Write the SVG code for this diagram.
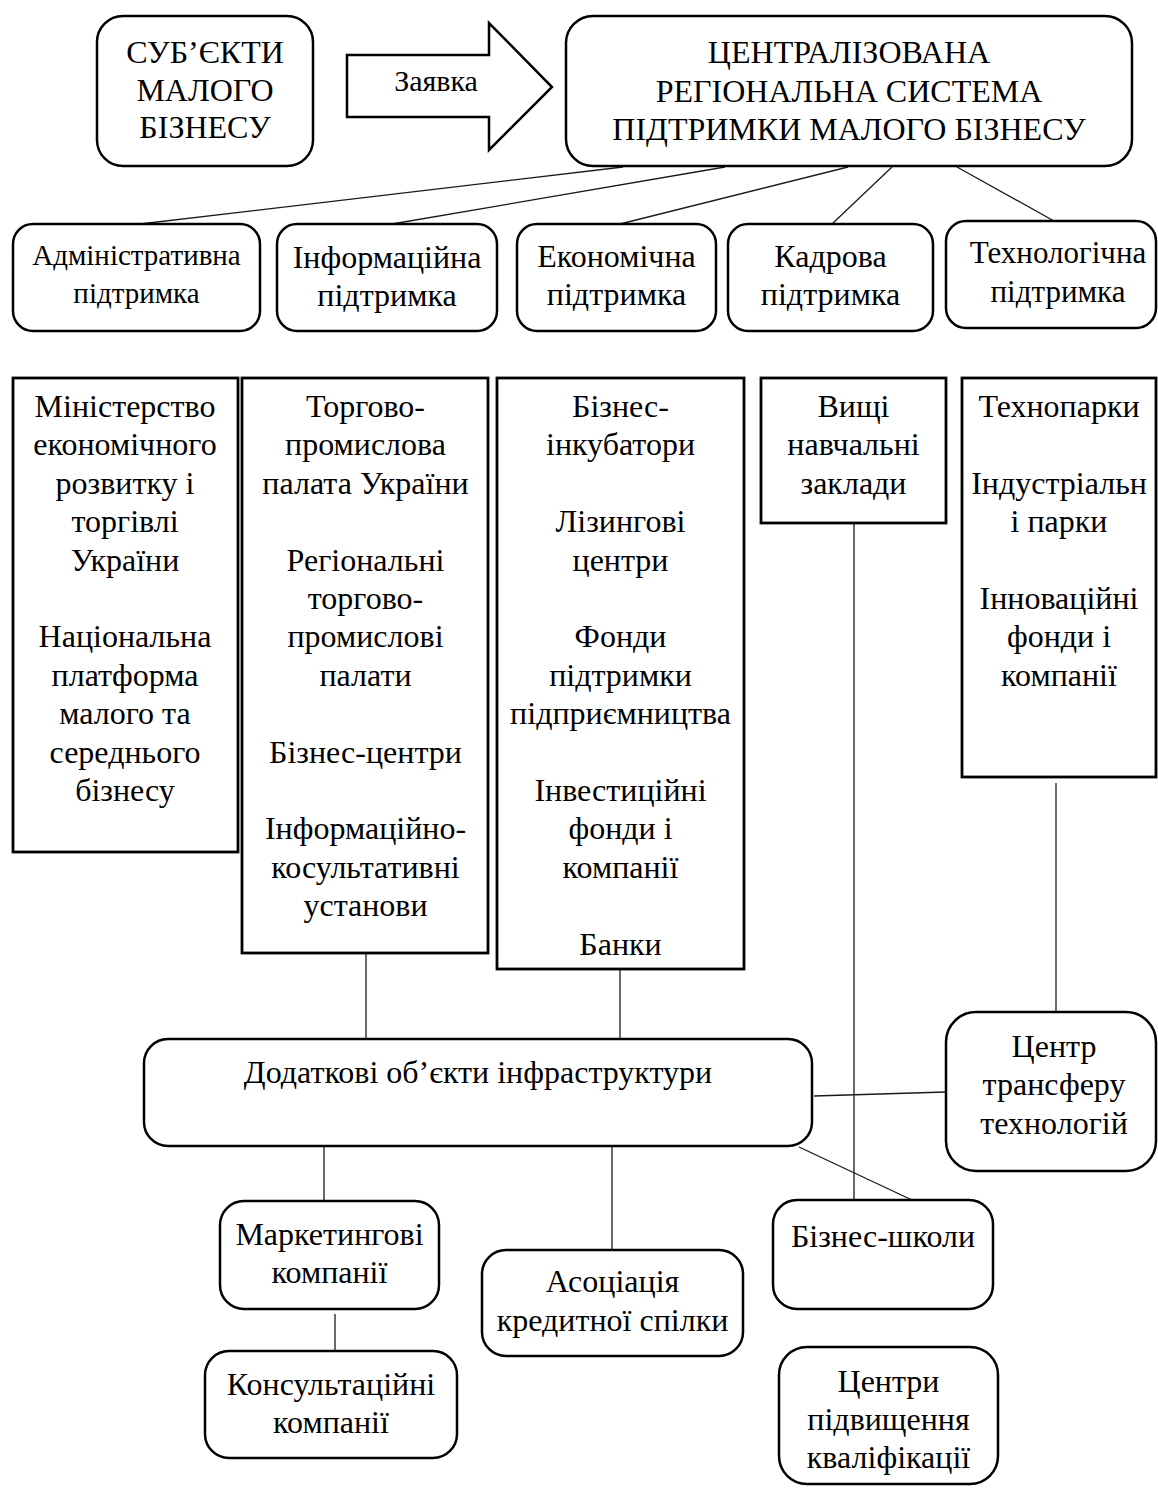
<svg xmlns="http://www.w3.org/2000/svg" width="1158" height="1488" viewBox="0 0 1158 1488">
<style>
  .rb { fill: #fff; stroke: #000; stroke-width: 2.5; }
  .sq { fill: #fff; stroke: #000; stroke-width: 2.8; }
  .ln { fill: none; stroke: #1a1a1a; stroke-width: 1.3; }
  text { font-family: "Liberation Serif", "Times New Roman", serif; font-size: 32px; fill: #000; text-anchor: middle; }
  .s29 { font-size: 29px; }
  .s30 { font-size: 30px; }
  .s31 { font-size: 31px; }
</style>
<rect x="0" y="0" width="1158" height="1488" fill="#fff"/>

<g id="connectors">
  <line class="ln" x1="623" y1="167" x2="140" y2="224"/>
  <line class="ln" x1="725" y1="167" x2="392" y2="224"/>
  <line class="ln" x1="848" y1="167" x2="620" y2="224"/>
  <line class="ln" x1="892" y1="167" x2="832" y2="224"/>
  <line class="ln" x1="957" y1="167" x2="1054" y2="221"/>
  <line class="ln" x1="366" y1="953" x2="366" y2="1039"/>
  <line class="ln" x1="620" y1="969" x2="620" y2="1039"/>
  <line class="ln" x1="854" y1="523" x2="854" y2="1200" stroke="#444"/>
  <line class="ln" x1="1056" y1="783" x2="1056" y2="1012"/>
  <line class="ln" x1="814" y1="1096" x2="946" y2="1092"/>
  <line class="ln" x1="799" y1="1147" x2="912" y2="1200"/>
  <line class="ln" x1="324" y1="1147" x2="324" y2="1201"/>
  <line class="ln" x1="612" y1="1147" x2="612" y2="1250"/>
  <line class="ln" x1="335" y1="1314" x2="335" y2="1356"/>
</g>

<g id="subjects">
  <rect class="rb" x="97" y="16" width="216" height="150" rx="26"/>
  <text x="205" y="63">СУБ’ЄКТИ</text>
  <text x="205" y="100.5">МАЛОГО</text>
  <text x="205" y="138">БІЗНЕСУ</text>
</g>

<g id="request-arrow">
  <polygon class="rb" points="347,55 489,55 489,23 552,87 489,150 489,117 347,117"/>
  <text class="s30" x="436" y="91">Заявка</text>
</g>

<g id="central-system">
  <rect class="rb" x="566" y="16" width="566" height="150" rx="27"/>
  <text x="849" y="63">ЦЕНТРАЛІЗОВАНА</text>
  <text x="849" y="102">РЕГІОНАЛЬНА СИСТЕМА</text>
  <text x="849" y="140">ПІДТРИМКИ МАЛОГО БІЗНЕСУ</text>
</g>

<g id="admin-support">
  <rect class="rb" x="13" y="224" width="247" height="107" rx="20"/>
  <text class="s29" x="136.5" y="265">Адміністративна</text>
  <text class="s29" x="136.5" y="303">підтримка</text>
</g>
<g id="info-support">
  <rect class="rb" x="277" y="224" width="220" height="107" rx="20"/>
  <text x="387" y="268">Інформаційна</text>
  <text x="387" y="306">підтримка</text>
</g>
<g id="econ-support">
  <rect class="rb" x="517" y="224" width="199" height="107" rx="20"/>
  <text x="616.5" y="267">Економічна</text>
  <text x="616.5" y="305">підтримка</text>
</g>
<g id="staff-support">
  <rect class="rb" x="728" y="224" width="205" height="107" rx="20"/>
  <text x="830.5" y="267">Кадрова</text>
  <text x="830.5" y="305">підтримка</text>
</g>
<g id="tech-support">
  <rect class="rb" x="946" y="221" width="210" height="107" rx="20"/>
  <text class="s31" x="1058" y="263">Технологічна</text>
  <text class="s31" x="1058" y="302">підтримка</text>
</g>

<g id="ministry">
  <rect class="sq" x="13" y="378" width="225" height="474"/>
  <text x="125" y="417">Міністерство</text>
  <text x="125" y="455.4">економічного</text>
  <text x="125" y="493.8">розвитку і</text>
  <text x="125" y="532.2">торгівлі</text>
  <text x="125" y="570.6">України</text>
  <text x="125" y="647.4">Національна</text>
  <text x="125" y="685.8">платформа</text>
  <text x="125" y="724.2">малого та</text>
  <text x="125" y="762.6">середнього</text>
  <text x="125" y="801">бізнесу</text>
</g>

<g id="chambers">
  <rect class="sq" x="242" y="378" width="246" height="575"/>
  <text x="365.5" y="417">Торгово-</text>
  <text x="365.5" y="455.4">промислова</text>
  <text x="365.5" y="493.8">палата України</text>
  <text x="365.5" y="570.6">Регіональні</text>
  <text x="365.5" y="609">торгово-</text>
  <text x="365.5" y="647.4">промислові</text>
  <text x="365.5" y="685.8">палати</text>
  <text x="365.5" y="762.6">Бізнес-центри</text>
  <text x="365.5" y="839.4">Інформаційно-</text>
  <text x="365.5" y="877.8">косультативні</text>
  <text x="365.5" y="916.2">установи</text>
</g>

<g id="finance">
  <rect class="sq" x="497" y="378" width="247" height="591"/>
  <text x="620.5" y="417">Бізнес-</text>
  <text x="620.5" y="455.4">інкубатори</text>
  <text x="620.5" y="532.2">Лізингові</text>
  <text x="620.5" y="570.6">центри</text>
  <text x="620.5" y="647.4">Фонди</text>
  <text x="620.5" y="685.8">підтримки</text>
  <text x="620.5" y="724.2">підприємництва</text>
  <text x="620.5" y="801">Інвестиційні</text>
  <text x="620.5" y="839.4">фонди і</text>
  <text x="620.5" y="877.8">компанії</text>
  <text x="620.5" y="954.6">Банки</text>
</g>

<g id="universities">
  <rect class="sq" x="761" y="378" width="185" height="145"/>
  <text x="853.5" y="417">Вищі</text>
  <text x="853.5" y="455.4">навчальні</text>
  <text x="853.5" y="493.8">заклади</text>
</g>

<g id="technoparks">
  <rect class="sq" x="962" y="378" width="194" height="399"/>
  <text x="1059" y="417">Технопарки</text>
  <text x="1059" y="493.8">Індустріальн</text>
  <text x="1059" y="532.2">і парки</text>
  <text x="1059" y="609">Інноваційні</text>
  <text x="1059" y="647.4">фонди і</text>
  <text x="1059" y="685.8">компанії</text>
</g>

<g id="additional-infrastructure">
  <rect class="rb" x="144" y="1039" width="668" height="107" rx="24"/>
  <text x="478" y="1083">Додаткові об’єкти інфраструктури</text>
</g>

<g id="tech-transfer">
  <rect class="rb" x="946" y="1012" width="210" height="159" rx="30"/>
  <text x="1054" y="1057">Центр</text>
  <text x="1054" y="1095.4">трансферу</text>
  <text x="1054" y="1133.8">технологій</text>
</g>

<g id="marketing">
  <rect class="rb" x="220" y="1201" width="219" height="108" rx="24"/>
  <text x="329.5" y="1245">Маркетингові</text>
  <text x="329.5" y="1283">компанії</text>
</g>

<g id="consulting">
  <rect class="rb" x="205" y="1351" width="252" height="107" rx="24"/>
  <text x="331" y="1395">Консультаційні</text>
  <text x="331" y="1433">компанії</text>
</g>

<g id="credit-union">
  <rect class="rb" x="482" y="1250" width="261" height="106" rx="24"/>
  <text x="612.5" y="1292">Асоціація</text>
  <text x="612.5" y="1331">кредитної спілки</text>
</g>

<g id="business-schools">
  <rect class="rb" x="773" y="1200" width="220" height="109" rx="24"/>
  <text x="883" y="1247">Бізнес-школи</text>
</g>

<g id="training-centers">
  <rect class="rb" x="779" y="1347" width="219" height="137" rx="28"/>
  <text x="888.5" y="1392">Центри</text>
  <text x="888.5" y="1430">підвищення</text>
  <text x="888.5" y="1468">кваліфікації</text>
</g>
</svg>
